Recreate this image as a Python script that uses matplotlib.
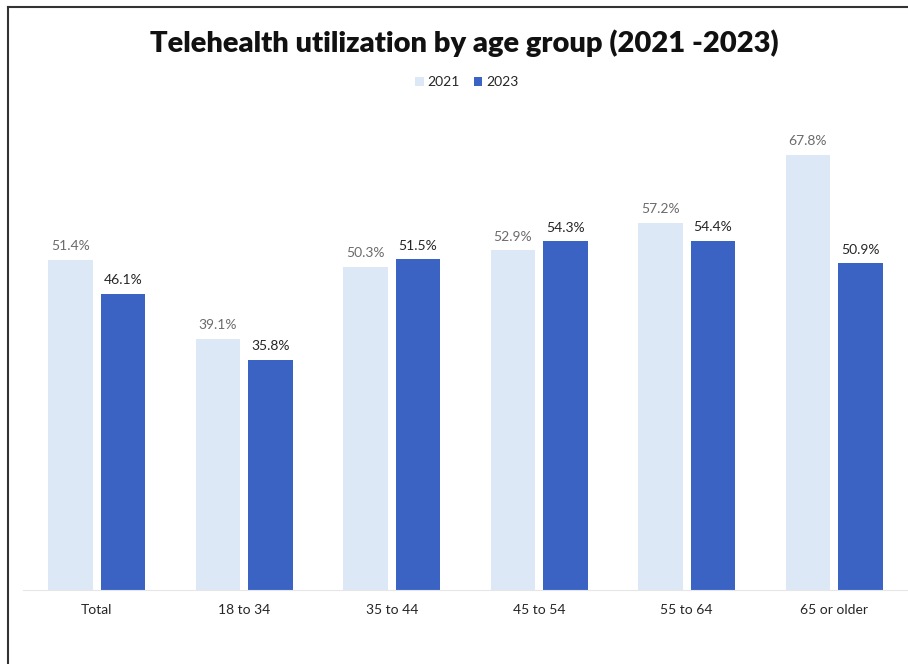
import matplotlib
matplotlib.use("Agg")
import matplotlib.pyplot as plt
import numpy as np
from matplotlib.lines import Line2D

categories = ["Total", "18 to 34", "35 to 44", "45 to 54", "55 to 64", "65 or older"]
vals_2021 = [51.4, 39.1, 50.3, 52.9, 57.2, 67.8]
vals_2023 = [46.1, 35.8, 51.5, 54.3, 54.4, 50.9]
series_names = ["2021", "2023"]

plt.rcParams['font.family'] = ['Lato', 'DejaVu Sans']

fig = plt.figure(figsize=(9.08, 6.64), dpi=100)
ax = fig.add_axes([23/908, 74/664, 885/908, 513.6/664])

x = np.arange(len(categories))
w = 0.30
off = 0.178
light = "#dde8f6"
dark = "#3a63c4"
b1 = ax.bar(x - off, vals_2021, w, color=light, label=series_names[0])
b2 = ax.bar(x + off, vals_2023, w, color=dark, label=series_names[1])

for rect, v in zip(b1, vals_2021):
    ax.text(rect.get_x() + rect.get_width()/2, v + 1.2, f"{v:.1f}%", ha="center", va="bottom",
            fontsize=10, color="#6b6b6b")
for rect, v in zip(b2, vals_2023):
    ax.text(rect.get_x() + rect.get_width()/2, v + 1.2, f"{v:.1f}%", ha="center", va="bottom",
            fontsize=10, color="#262626")

ax.set_xlim(-0.5, len(categories) - 0.5)
ax.set_ylim(0, 80)
ax.set_xticks(x)
ax.set_xticklabels(categories, fontsize=10, color="#262626")
ax.tick_params(axis="x", length=0, pad=10)
ax.set_yticks([])
for s in ["top", "right", "left"]:
    ax.spines[s].set_visible(False)
ax.spines["bottom"].set_color("#e6e6e6")

fig.text(464/908, 1 - 43/664, "Telehealth utilization by age group (2021 -2023)", ha="center", va="center",
         fontsize=21, fontweight="heavy", color="#111111")

leg = fig.legend(handles=[b1, b2], labels=series_names, loc="center", bbox_to_anchor=(467/908, 1 - 82/664),
                 ncol=2, frameon=False, fontsize=10, handlelength=0.6, handleheight=0.6,
                 columnspacing=1.0, handletextpad=0.3)
for t in leg.get_texts():
    t.set_color("#262626")

# figure border on left and top
fig.add_artist(Line2D([8/908, 8/908], [0, 1 - 7/664], transform=fig.transFigure, color="#333333", lw=1.5))
fig.add_artist(Line2D([8/908, 1], [1 - 7/664, 1 - 7/664], transform=fig.transFigure, color="#333333", lw=1.5))

fig.savefig("out.png", dpi=100)
